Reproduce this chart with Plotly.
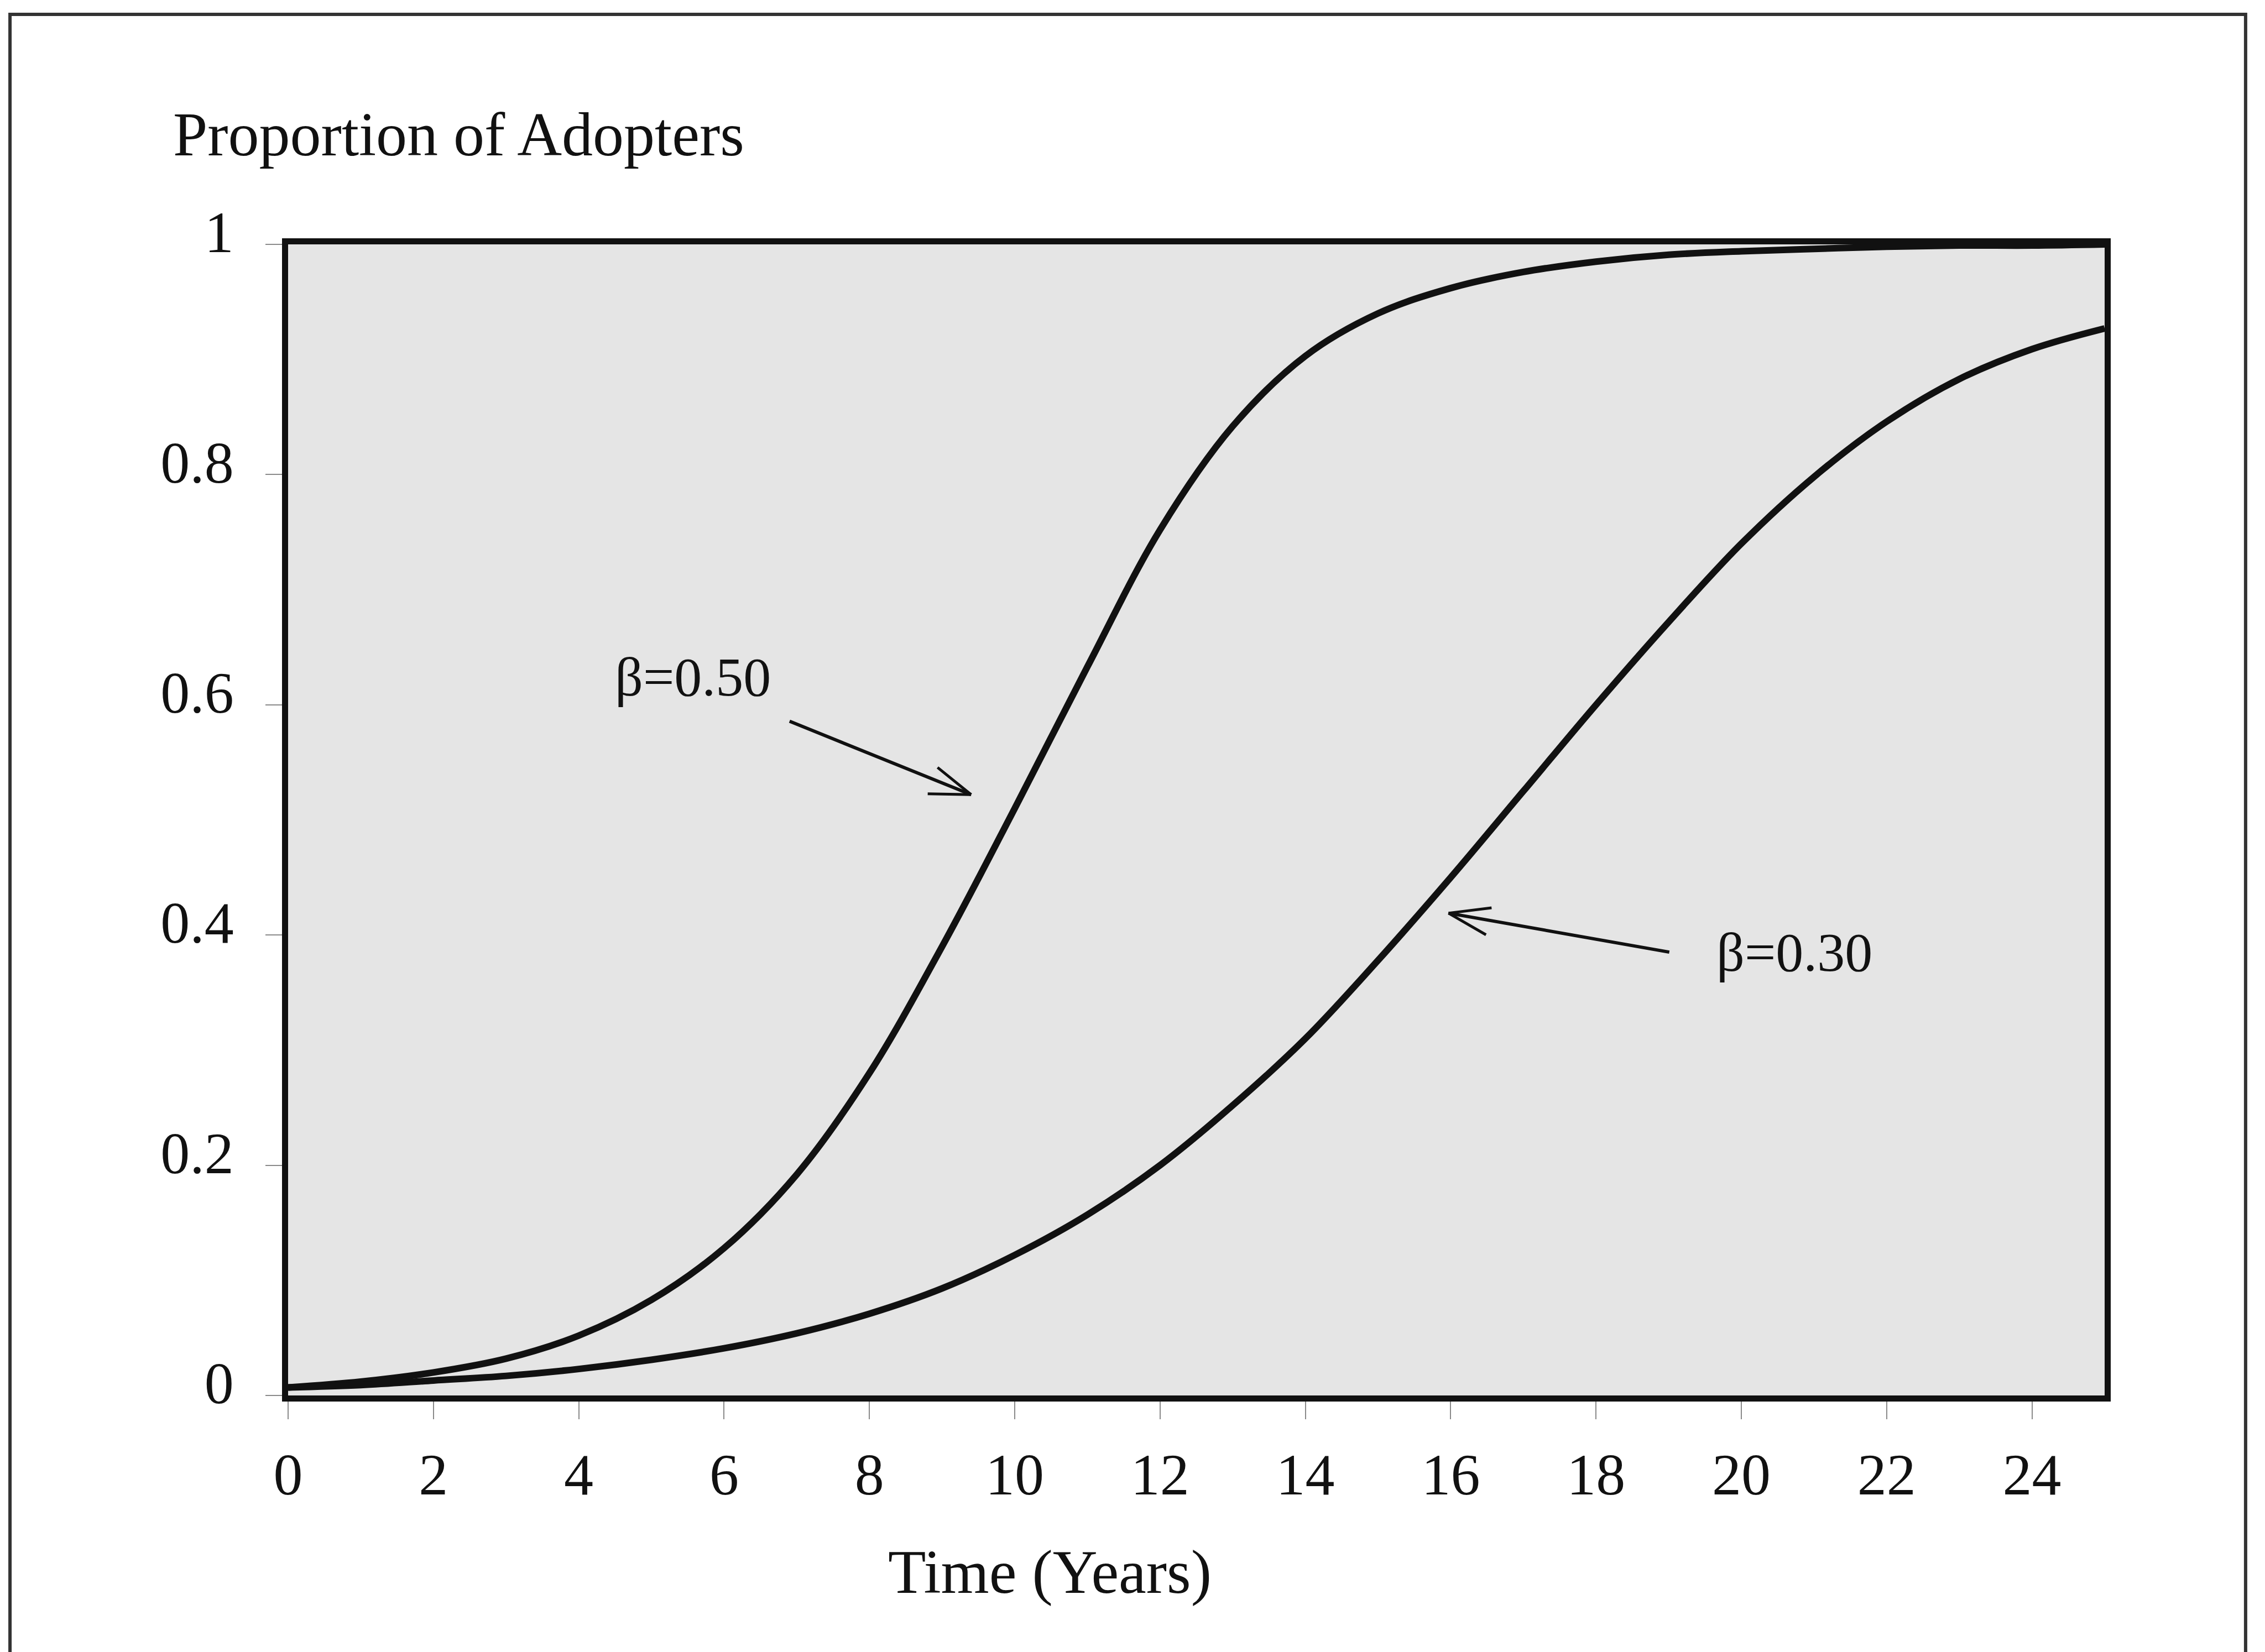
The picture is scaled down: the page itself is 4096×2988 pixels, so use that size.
import math
import plotly.graph_objects as go

# ---- data ----
years = list(range(26))
beta_050 = [0.007, 0.012, 0.020, 0.032, 0.052, 0.083, 0.128, 0.192, 0.280, 0.390,
            0.510, 0.633, 0.752, 0.842, 0.903, 0.940, 0.962, 0.976, 0.985, 0.991,
            0.994, 0.996, 0.998, 0.999, 0.999, 1.000]
beta_030 = [0.007, 0.009, 0.013, 0.017, 0.023, 0.031, 0.041, 0.054, 0.071, 0.093,
            0.122, 0.157, 0.200, 0.252, 0.310, 0.378, 0.450, 0.525, 0.600, 0.672,
            0.740, 0.798, 0.846, 0.883, 0.909, 0.927]
x_tick_vals = [0, 2, 4, 6, 8, 10, 12, 14, 16, 18, 20, 22, 24]
y_tick_vals = [0, 0.2, 0.4, 0.6, 0.8, 1]
y_tick_text = ["0", "0.2", "0.4", "0.6", "0.8", "1"]
y_title = "Proportion of Adopters"
x_title = "Time (Years)"
label_050 = "β=0.50"
label_030 = "β=0.30"

X_MAX = 25
FONT = "Liberation Serif"
INK = "#111111"

fig = go.Figure()
fig.add_trace(go.Scatter(x=years, y=beta_050, mode="lines", name=label_050,
                         line=dict(color=INK, width=12, shape="spline", smoothing=1.0)))
fig.add_trace(go.Scatter(x=years, y=beta_030, mode="lines", name=label_030,
                         line=dict(color=INK, width=12, shape="spline", smoothing=1.0)))

axis_common = dict(
    showline=True, mirror=True, linecolor=INK, linewidth=11,
    showgrid=False, zeroline=False,
    ticks="outside", tickcolor="#8a8a8a", tickwidth=2,
    tickfont=dict(family=FONT, size=106, color=INK),
)

fig.update_xaxes(range=[0, X_MAX], tickvals=x_tick_vals, ticklen=32,
                 ticklabelstandoff=9, **axis_common)
fig.update_yaxes(range=[0, 1], tickvals=y_tick_vals, ticktext=y_tick_text, ticklen=30,
                 ticklabelstandoff=36, ticklabelshift=-23, **axis_common)


def arrow(head_x, head_y, tail_x, tail_y, barb_angles_deg, barb_len=80):
    """Shaft from tail to head plus two thin open barbs at the head."""
    items = [dict(text="", xref="x", yref="y", axref="x", ayref="y",
                  x=head_x, y=head_y, ax=tail_x, ay=tail_y, showarrow=True,
                  arrowhead=0, arrowwidth=6, arrowcolor=INK, standoff=0, startstandoff=0)]
    for ang in barb_angles_deg:
        a = math.radians(ang)
        items.append(dict(text="", xref="x", yref="y", x=head_x, y=head_y,
                          ax=barb_len * math.cos(a), ay=-barb_len * math.sin(a),
                          showarrow=True, arrowhead=0, arrowwidth=5, arrowcolor=INK,
                          standoff=0, startstandoff=0))
    return items


annotations = [
    dict(text=y_title, xref="paper", yref="paper", x=-1.60 / X_MAX, y=1.0956, xanchor="left",
         yanchor="middle", showarrow=False, font=dict(family=FONT, size=112, color=INK)),
    dict(text=x_title, xref="paper", yref="paper", x=10.48 / X_MAX, y=-0.153, xanchor="center",
         yanchor="middle", showarrow=False, font=dict(family=FONT, size=112, color=INK)),
    dict(text=label_050, xref="x", yref="y", x=5.57, y=0.624, xanchor="center",
         yanchor="middle", showarrow=False, font=dict(family=FONT, size=100, color=INK)),
    dict(text=label_030, xref="x", yref="y", x=20.73, y=0.385, xanchor="center",
         yanchor="middle", showarrow=False, font=dict(family=FONT, size=100, color=INK)),
]
annotations += arrow(9.40, 0.522, 6.89, 0.586, [141, 179])
annotations += arrow(15.97, 0.419, 19.02, 0.385, [7, -30])

fig.update_layout(
    width=4096, height=2988, autosize=False,
    margin=dict(l=521, r=290, t=442, b=464, pad=0),
    paper_bgcolor="white", plot_bgcolor="#e5e5e5",
    showlegend=False,
    annotations=annotations,
    shapes=[dict(type="rect", xref="paper", yref="paper",
                 x0=-0.1531, x1=1.0776, y0=-0.30, y1=1.1998,
                 line=dict(color="#333333", width=6), layer="below")],
)

fig.write_html("out.html")
